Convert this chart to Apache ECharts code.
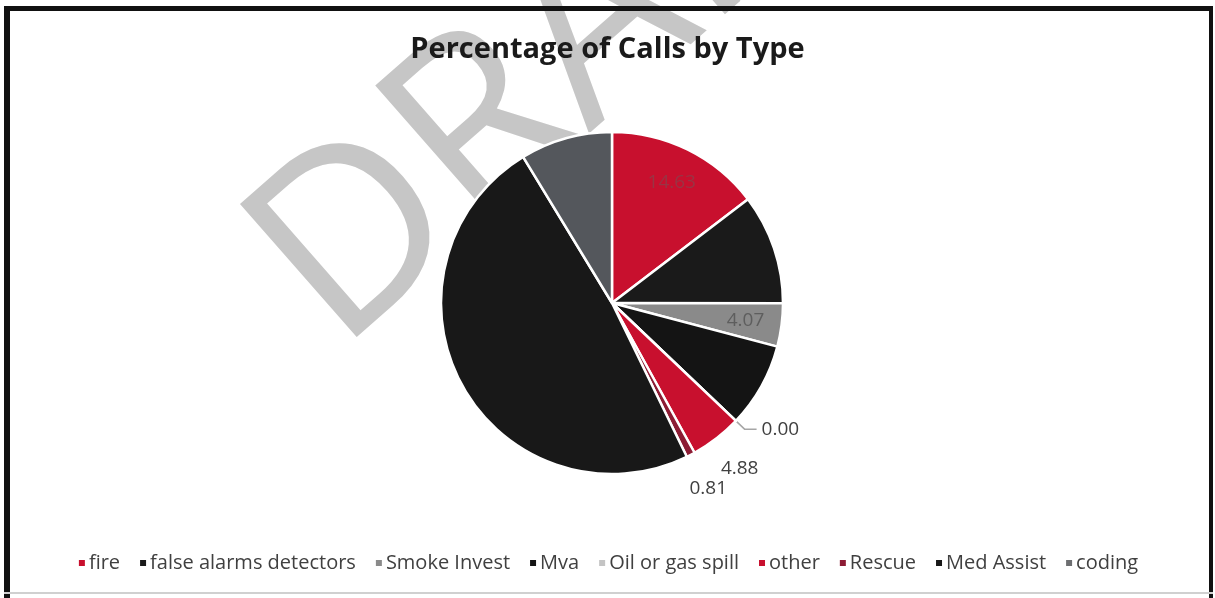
<!DOCTYPE html>
<html>
<head>
<meta charset="utf-8">
<script src="https://cdn.jsdelivr.net/npm/echarts@6/dist/echarts.min.js"></script>
<style>
html,body{margin:0;padding:0;background:#fff;}
#chart{width:1215px;height:598px;}
</style>
</head>
<body>
<div id="chart"></div>
<script>
const categories = ['fire','false alarms detectors','Smoke Invest','Mva','Oil or gas spill','other','Rescue','Med Assist','coding'];
const values = [14.63, 10.4, 4.07, 8.0, 0.00, 4.88, 0.81, 48.5, 8.7];
const colors = ['#c8102e','#1a1a1a','#8a8a8a','#141414','#c4c4c4','#c8102e','#8c1c34','#181818','#54575c'];
const legendColors = ['#c8102e','#1a1a1a','#8a8a8a','#141414','#c4c4c4','#c8102e','#8c1c34','#181818','#6d6e71'];
const shownLabels = ['14.63','','4.07','','0.00','4.88','0.81','',''];

const chart = echarts.init(document.getElementById('chart'));
const cx = 612, cy = 303, R = 171;
const labelFont = {fontSize:19, fontFamily:'Open Sans'};

const mainData = categories.map((c,i)=>{
  const d = {name:c, value:values[i], itemStyle:{color:colors[i]}};
  if(c==='Oil or gas spill'){
    d.label = Object.assign({show:true, position:'outside', color:'#404040', formatter:()=>shownLabels[i]}, labelFont);
    d.labelLine = {show:true, length:12, length2:12, lineStyle:{color:'#a6a6a6', width:1.5}};
  } else {
    d.label = {show:false};
    d.labelLine = {show:false};
  }
  return d;
});

function labelSeries(names, radius, colorMap){
  return {type:'pie', center:[cx,cy], radius:radius, startAngle:90, clockwise:true, z:3,
    silent:true, legendHoverLink:false, avoidLabelOverlap:false, minShowLabelAngle:0,
    labelLine:{show:false},
    data: categories.map((c,i)=>({name:c, value:values[i],
      itemStyle:{color:'rgba(0,0,0,0)', borderWidth:0},
      label:Object.assign({show:names.indexOf(c)>=0, position:'inside',
        color:colorMap[c]||'#404040', formatter:()=>shownLabels[i]}, labelFont)}))};
}

chart.setOption({
  animation:false,
  backgroundColor:'#ffffff',
  title:{text:'Percentage of Calls by Type', left:'center', top:30,
    textStyle:{fontFamily:'Open Sans', fontWeight:'bold', fontSize:29, color:'#1a1a1a'}},
  legend:{bottom:20, left:'center', itemWidth:8, itemHeight:8, itemGap:18, icon:'rect',
    data: categories.map((c,i)=>({name:c, itemStyle:{color:legendColors[i]}})),
    textStyle:{fontFamily:'Open Sans', fontSize:20, color:'#404040', padding:[0,0,0,-2]}},
  graphic:[
    {type:'text', z:-10, x:292, y:300, rotation:0.72,
      style:{text:'DRAFT', font:'normal 248px "Open Sans"', fill:'#c6c6c6', verticalAlign:'middle', align:'left'}},
    {type:'rect', shape:{x:4, y:6, width:1209, height:5}, style:{fill:'#111'}},
    {type:'rect', shape:{x:4, y:6, width:6, height:592}, style:{fill:'#111'}},
    {type:'rect', shape:{x:1209, y:6, width:4, height:592}, style:{fill:'#111'}},
    {type:'rect', shape:{x:4, y:592, width:1209, height:2}, style:{fill:'#d0d0d0'}}
  ],
  series:[
    {type:'pie', center:[cx,cy], radius:[0,R], startAngle:90, clockwise:true, z:2,
      minShowLabelAngle:0, avoidLabelOverlap:false, silent:true,
      itemStyle:{borderColor:'#ffffff', borderWidth:2.5},
      data:mainData},
    labelSeries(['fire','Smoke Invest'], [R*0.56, R*0.98], {'fire':'#9a3444','Smoke Invest':'#5e5e5e'}),
    labelSeries(['other','Rescue'], [R*1.07, R*1.34], {})
  ]
});
</script>
</body>
</html>
